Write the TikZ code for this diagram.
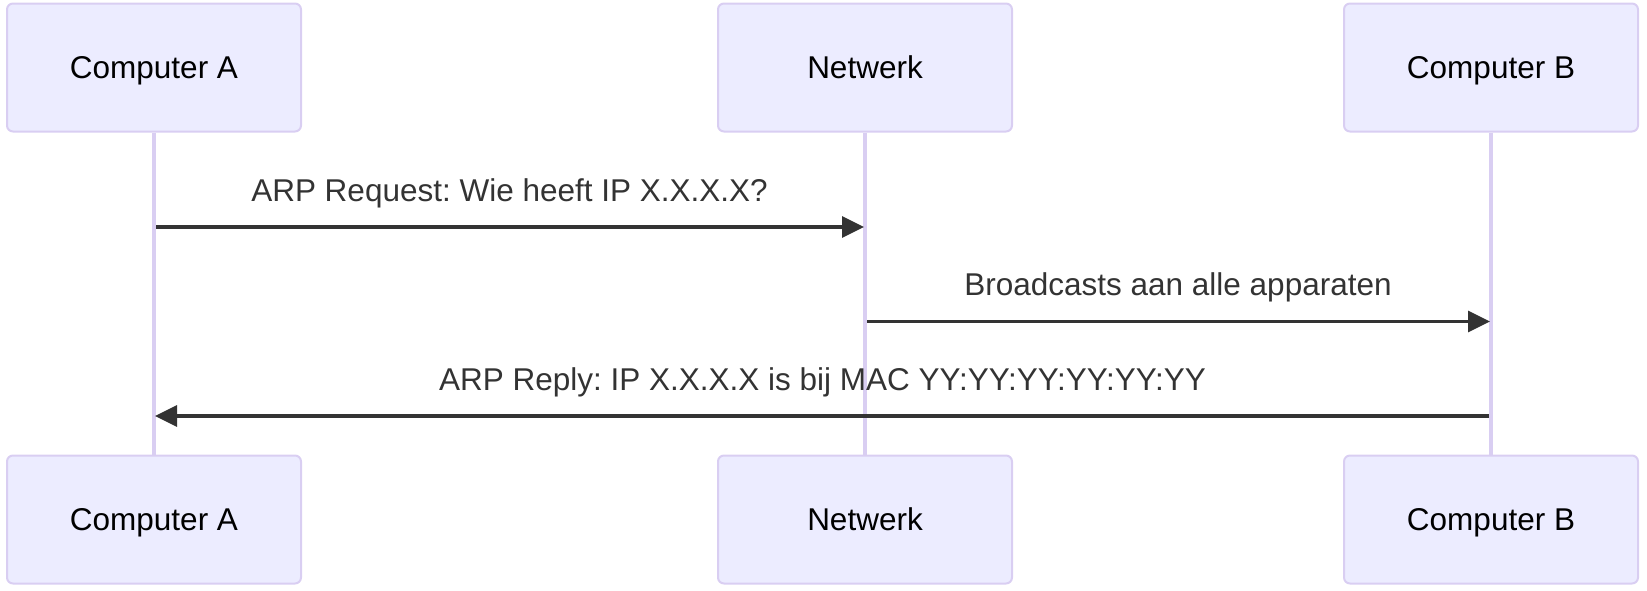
\documentclass[tikz,border=0pt]{standalone}
\usepackage{fontspec}
\setmainfont{Liberation Sans}
\usepackage{tikz}
\usetikzlibrary{arrows.meta, positioning, calc}
\definecolor{actorfill}{HTML}{ECECFF}
\definecolor{actorline}{HTML}{D9CEF2}
\definecolor{msgline}{HTML}{333333}
\frenchspacing

\begin{document}
\begin{tikzpicture}[x=0.5pt, y=-0.5pt,
            every node/.style={font=\fontsize{15.75pt}{19pt}\selectfont},
            actor/.style={draw=actorline, line width=1pt, fill=actorfill, rounded corners=3pt,
                minimum width=147pt, minimum height=64pt, inner sep=0pt,
                text height=11.3pt, text depth=0pt},
            lifeline/.style={draw=actorline, line width=1.6pt},
            msg/.style={draw=msgline, line width=1.6pt, shorten <=1pt, shorten >=0.5pt,
                -{Triangle[length=11pt, width=10.5pt]}},
            msglabel/.style={text=msgline, anchor=base, yshift=12.9pt}]
            \useasboundingbox (0,0) rectangle (1647,590);

            % deelnemers boven
            \node[actor] (compA) at (154,67.5) {Computer A};
            \node[actor] (netw) at (865,67.5) {Netwerk};
            \node[actor] (compB) at (1491,67.5) {Computer B};

            % deelnemers onder
            \node[actor] (compAbot) at (154,519.5) {Computer A};
            \node[actor] (netwbot) at (865,519.5) {Netwerk};
            \node[actor] (compBbot) at (1491,519.5) {Computer B};

            % levenslijnen
            \draw[lifeline] (compA) -- (compAbot);
            \draw[lifeline] (netw) -- (netwbot);
            \draw[lifeline] (compB) -- (compBbot);

            % berichten
            \coordinate (m1) at (0,227);
            \coordinate (m2) at (0,321.5);
            \coordinate (m3) at (0,416);
            \draw[msg] (compA |- m1) -- (netw |- m1)
                node[msglabel, midway] (req) {ARP Request: Wie heeft IP X.X.X.X?};
            \draw[msg] (netw |- m2) -- (compB |- m2)
                node[msglabel, midway] (bcast) {Broadcasts aan alle apparaten};
            \draw[msg] (compB |- m3) -- (compA |- m3)
                node[msglabel, midway] (reply) {ARP Reply: IP X.X.X.X is bij MAC YY:YY:YY:YY:YY:YY};
        \end{tikzpicture}
\end{document}
